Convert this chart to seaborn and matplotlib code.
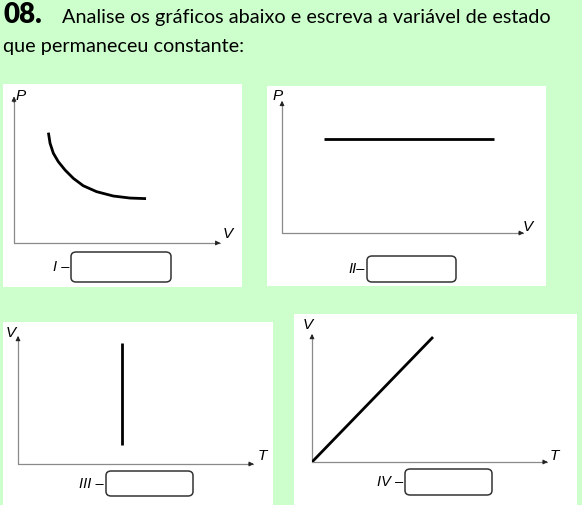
import numpy as np
import matplotlib
matplotlib.use("Agg")
import matplotlib.pyplot as plt
import seaborn as sns
import pandas as pd
from matplotlib.patches import Rectangle, FancyBboxPatch

W, H = 582, 505

# graph I - isothermal (P x V)
curve_v = [1.67, 1.75, 1.91, 2.15, 2.48, 2.88, 3.36, 4.01, 4.82, 5.63, 6.41]
curve_p = [7.61, 6.88, 6.19, 5.61, 5.03, 4.46, 3.95, 3.54, 3.24, 3.10, 3.06]
# graph II - isobaric (P x V)
line2_v = [1.74, 8.8]
line2_p = [7.18, 7.18]
# graph III - isochoric (V x T)
line3_t = [4.43, 4.43]
line3_v = [1.5, 9.53]
# graph IV - isobaric (V x T)
line4_t = [0.0, 5.15]
line4_v = [0.0, 9.84]

roman = ["I –", "II–", "III –", "IV –"]
xlabels = ["V", "V", "T", "T"]
ylabels = ["P", "P", "V", "V"]

sns.set_theme(style="white")
plt.rcParams['font.family'] = ['Liberation Sans', 'DejaVu Sans']

fig = plt.figure(figsize=(W / 100, H / 100), dpi=100)
fig.patch.set_facecolor('#ccffcc')


def fx(x):
    return x / W


def fy(y):
    return 1 - y / H


# white panels
for x0, y0, x1, y1 in [(3, 84, 242, 287), (267, 86, 546, 286), (3, 322, 273, 506), (294, 314, 577, 506)]:
    fig.patches.append(Rectangle((fx(x0), fy(y1)), (x1 - x0) / W, (y1 - y0) / H,
                                 transform=fig.transFigure, facecolor='white', edgecolor='none', zorder=-1))

# axes area: origin x, top y, end x, origin y (pixels)
rects = [(14, 98, 220, 243), (282, 102, 523, 233), (18, 337, 253, 464), (312, 335, 547, 462)]
data = [(curve_v, curve_p), (line2_v, line2_p), (line3_t, line3_v), (line4_t, line4_v)]

axes = []
for (x0, y0, x1, y1), (xs, ys) in zip(rects, data):
    ax = fig.add_axes([fx(x0), fy(y1), (x1 - x0) / W, (y1 - y0) / H])
    ax.patch.set_alpha(0)
    df = pd.DataFrame({'x': xs, 'y': ys})
    sns.lineplot(data=df, x='x', y='y', ax=ax, color='black', lw=2.0, sort=False,
                 estimator=None, solid_capstyle='butt', zorder=3)
    ax.set_xlim(0, 10)
    ax.set_ylim(0, 10)
    for s in ax.spines.values():
        s.set_visible(False)
    ax.set_xticks([])
    ax.set_yticks([])
    ax.set_xlabel('')
    ax.set_ylabel('')
    ax.plot([0, 10], [0, 0], color='#8a8a8a', lw=0.9, clip_on=False, zorder=1)
    ax.plot([0, 0], [0, 10], color='#8a8a8a', lw=0.9, clip_on=False, zorder=1)
    ax.annotate('', xy=(10.15, 0), xytext=(9.7, 0),
                arrowprops=dict(arrowstyle='-|>', color='#222222', lw=0.6, mutation_scale=7),
                annotation_clip=False)
    ax.annotate('', xy=(0, 10.3), xytext=(0, 9.5),
                arrowprops=dict(arrowstyle='-|>', color='#222222', lw=0.6, mutation_scale=7),
                annotation_clip=False)
    axes.append(ax)

# axis letters
ypos = [(21, 96), (278, 96), (11, 333), (308, 325)]
xpos = [(228, 234), (528, 227), (262, 456), (554, 456)]
for i in range(4):
    fig.text(fx(ypos[i][0]), fy(ypos[i][1]), ylabels[i], ha='center', va='center',
             fontsize=11, style='italic', color='black')
    fig.text(fx(xpos[i][0]), fy(xpos[i][1]), xlabels[i], ha='center', va='center',
             fontsize=11, style='italic', color='black')

# answer boxes
boxes = [(71, 252, 171, 282), (367, 256, 456, 282), (106, 471, 193, 496), (405, 469, 492, 495)]
for r, (x0, y0, x1, y1) in zip(roman, boxes):
    fig.patches.append(FancyBboxPatch((fx(x0), fy(y1)), (x1 - x0) / W, (y1 - y0) / H,
                                      boxstyle='round,pad=0,rounding_size=0.009',
                                      transform=fig.transFigure, facecolor='white',
                                      edgecolor='#333333', lw=1.1, zorder=2))
    fig.text(fx(x0 - 2), fy((y0 + y1) / 2), r, ha='right', va='center',
             fontsize=10.5, style='italic', color='black')

# heading
fig.text(fx(3), fy(23), '08.', fontsize=20, fontweight='heavy', family='Lato',
         ha='left', va='baseline', color='black')
fig.text(fx(62), fy(23), 'Analise os gráficos abaixo e escreva a variável de estado',
         fontsize=14.3, family='Lato', ha='left', va='baseline', color='black')
fig.text(fx(3), fy(52), 'que permaneceu constante:',
         fontsize=14.3, family='Lato', ha='left', va='baseline', color='black')

fig.savefig('out.png', dpi=100, facecolor=fig.get_facecolor())
